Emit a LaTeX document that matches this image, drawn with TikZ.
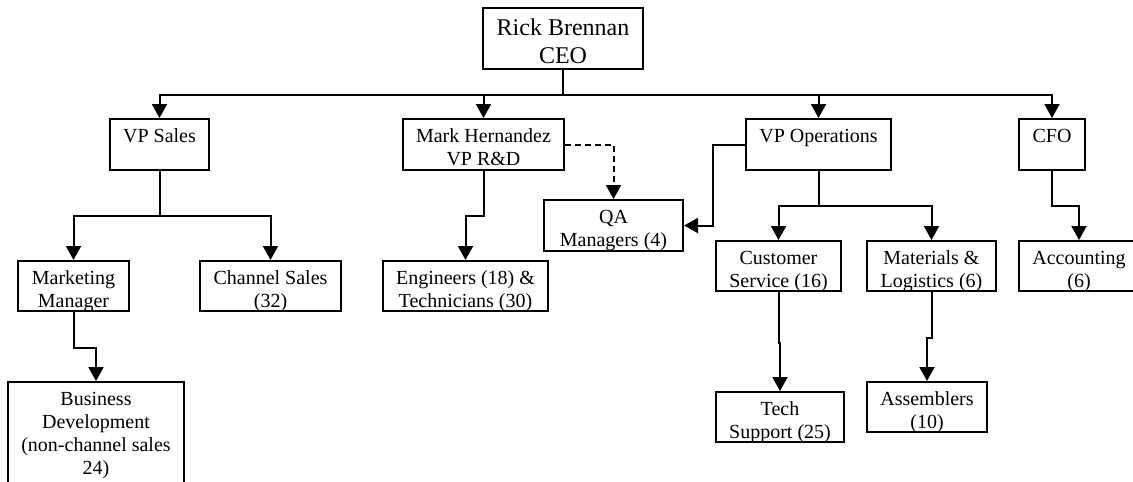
\documentclass[tikz,border=0pt]{standalone}
\usepackage{fontspec}
\setmainfont{Liberation Serif}
\usetikzlibrary{arrows.meta}

\tikzset{
  unit/.style={draw, line width=2pt, inner sep=0pt},
  lbl/.style={inner sep=0pt, anchor=base,
    font=\fontsize{20}{23}\selectfont},
  bigl/.style={inner sep=0pt, anchor=base,
    font=\fontsize{24}{27.7}\selectfont},
  link/.style={line width=2pt, -{Triangle[length=14pt,width=15pt]}},
  plain/.style={line width=2pt},
  dotted link/.style={link, dash pattern=on 6pt off 4pt},
}

% lines stacked and centred, the baseline on the first one
\newcommand{\lines}[1]{\begin{tabular}[t]{@{}c@{}}#1\end{tabular}}

% \orgunit{name}{x1}{y1}{x2}{y2}{text}: a box given by its corners,
% its text hanging from the top edge
\newcommand{\orgunit}[6]{%
  \node[unit, minimum width=#4pt-#2pt, minimum height=#5pt-#3pt]
    (#1) at ({(#2+#4)/2},{(#3+#5)/2}) {};
  \node[lbl] (#1-t) at ([yshift=-24.5pt]#1.north) {\lines{#6}};
}

\begin{document}
\begin{tikzpicture}[x=1pt,y=-1pt]
\useasboundingbox (0,0) rectangle (1133,482);
\fill[white] (0,0) rectangle (1133,482);
\clip (0,0) rectangle (1133,482);

% chief executive
\node[unit, minimum width=160pt, minimum height=61pt] (ceo) at (563,38.5) {};
\node[bigl] (ceo-t) at ([yshift=-28.7pt]ceo.north) {\lines{Rick Brennan\\CEO}};

% direct reports
\orgunit{vps}{110}{119}{209}{170}{VP Sales}
\orgunit{rnd}{403}{119}{564}{170}{Mark Hernandez\\VP R\&D}
\orgunit{ops}{746}{119}{891}{170}{VP Operations}
\orgunit{cfo}{1019}{119}{1085}{170}{CFO}

% departments
\orgunit{mkt}{18}{261}{129}{311}{Marketing\\Manager}
\orgunit{chs}{200}{261}{341}{311}{Channel Sales\\(32)}
\orgunit{biz}{8}{382}{184}{492}{Business\\Development\\(non-channel sales\\24)}
\orgunit{eng}{383}{261}{548}{311}{Engineers (18) \&\\Technicians (30)}
\orgunit{qa}{544}{200}{683}{251}{QA\\Managers (4)}
\orgunit{cs}{716}{241}{841}{291}{Customer\\Service (16)}
\orgunit{mat}{867}{241}{996}{291}{Materials \&\\Logistics (6)}
\orgunit{acc}{1019}{241}{1139}{291}{Accounting\\(6)}
\orgunit{tech}{716}{392}{844}{442}{Tech\\Support (25)}
\orgunit{asm}{867}{382}{987}{432}{Assemblers\\(10)}

% reporting lines
\draw[plain] (ceo.south) -- ++(0,25) coordinate (bus);
\foreach \n in {vps,rnd,ops,cfo}
  \draw[link] (bus) -| (\n.north);
\draw[link] (vps.south) -- ++(0,45) -| (mkt.north);
\draw[link] (vps.south) -- ++(0,45) -| (chs.north);
\draw[link] (mkt.south) -- ++(0,36) -| (biz.north);
\draw[link] (rnd.south) -- ++(0,45) -| (eng.north);
\draw[dotted link] (rnd.east) -| (qa.north);
\draw[link] (ops.west) -- ++(-32,0) |- (qa.east);
\draw[link] (ops.south) -- ++(0,35) -| (cs.north);
\draw[link] (ops.south) -- ++(0,35) -| (mat.north);
\draw[link] (cfo.south) -- ++(0,35) -| (acc.north);
\draw[link] (cs.south) -- ++(0,51) -| (tech.north);
\draw[link] (mat.south) -- ++(0,46) -| (asm.north);
\end{tikzpicture}
\end{document}
